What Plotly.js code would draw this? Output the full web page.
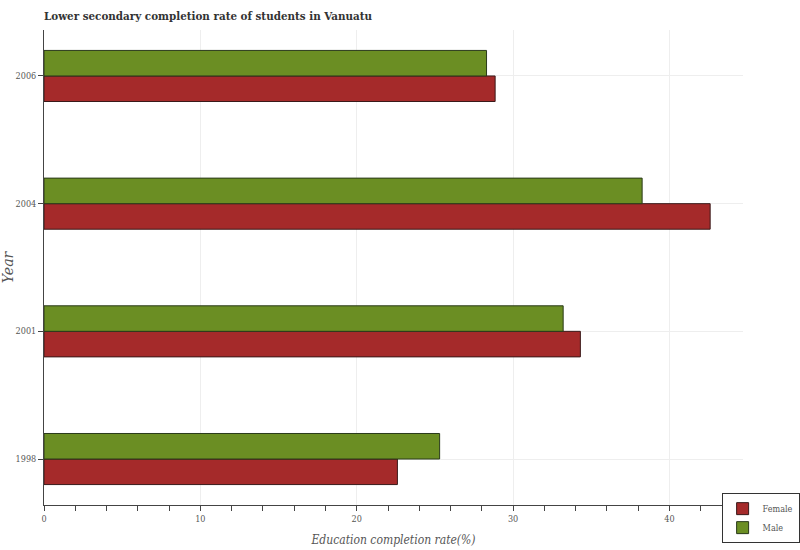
<!DOCTYPE html>
<html>
<head>
<meta charset="utf-8">
<script src="https://cdn.plot.ly/plotly-3.0.1.min.js"></script>
<style>html,body{margin:0;padding:0;background:#fff;}#chart{width:800px;height:550px;}</style>
</head>
<body>
<div id="chart"></div>
<script>
const years = ["1998", "2001", "2004", "2006"];
const female = [22.6, 34.3, 42.6, 28.85];
const male = [25.3, 33.2, 38.25, 28.3];
const seriesNames = ["Female", "Male"];
const seriesColors = ["#A52A2A", "#6B8E23"];

const font = "DejaVu Serif Condensed, DejaVu Serif, serif";

const traces = [
  {type: "bar", orientation: "h", name: seriesNames[0], y: years, x: female,
   marker: {color: seriesColors[0], line: {color: "#3a1a1a", width: 1}}},
  {type: "bar", orientation: "h", name: seriesNames[1], y: years, x: male,
   marker: {color: seriesColors[1], line: {color: "#2a3a1a", width: 1}}}
];

const layout = {
  width: 800, height: 550,
  margin: {l: 44, r: 57, t: 30, b: 45, autoexpand: false},
  paper_bgcolor: "#fff", plot_bgcolor: "#fff",
  barmode: "group", bargap: 0.6, bargroupgap: 0,
  title: {text: "<b>Lower secondary completion rate of students in Vanuatu</b>",
          x: 44/800, xanchor: "left", y: 1 - 16/550, yanchor: "middle",
          font: {family: font, size: 11.5, color: "#333"}},
  xaxis: {
    range: [0, 44.7], dtick: 10, tick0: 0,
    showgrid: true, gridcolor: "#eeeeee", zeroline: false,
    showline: true, linecolor: "#444", linewidth: 1,
    ticks: "outside", ticklen: 5, tickcolor: "#444",
    minor: {dtick: 2, ticks: "outside", ticklen: 5, tickcolor: "#444", showgrid: false},
    tickfont: {family: font, size: 9, color: "#555"},
    title: {text: "<i>Education completion rate(%)</i>", font: {family: font, size: 12, color: "#555"}, standoff: 12}
  },
  yaxis: {
    type: "category", range: [-0.36, 3.36],
    showgrid: true, gridcolor: "#eeeeee",
    showline: true, linecolor: "#444", linewidth: 1,
    ticks: "outside", ticklen: 5, tickcolor: "#444",
    tickfont: {family: font, size: 9, color: "#555"},
    title: {text: "<i>Year</i>", font: {family: "DejaVu Serif, serif", size: 14, color: "#555"}, standoff: 14}
  },
  legend: {x: 1.081, xanchor: "right", y: 0.025, yanchor: "top",
           bordercolor: "#333", borderwidth: 1, bgcolor: "#fff",
           itemwidth: 30, tracegroupgap: 0,
           font: {family: font, size: 9, color: "#555"}, traceorder: "normal"},
  showlegend: true
};

Plotly.newPlot("chart", traces, layout, {displayModeBar: false});
</script>
</body>
</html>
